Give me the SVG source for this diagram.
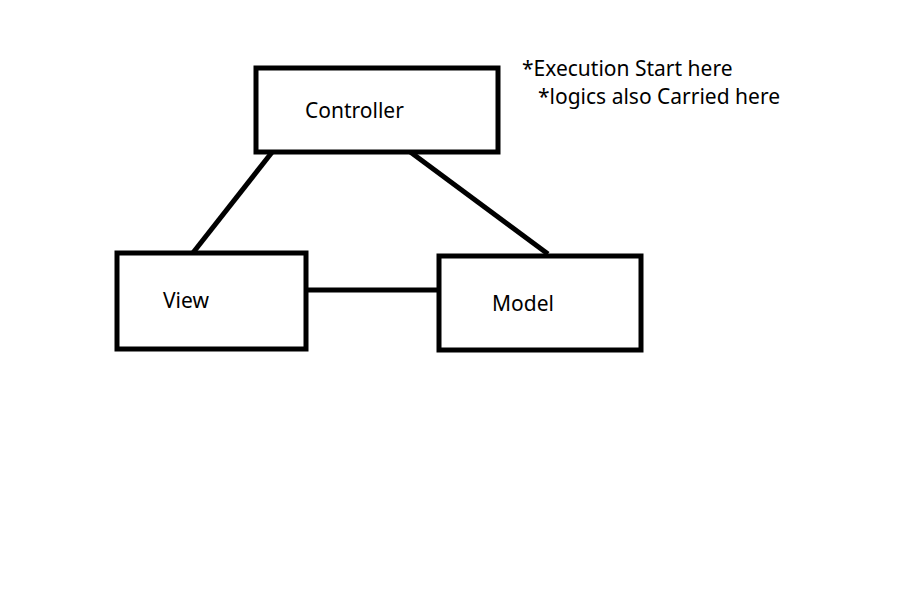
<svg xmlns="http://www.w3.org/2000/svg" width="916" height="602" viewBox="0 0 916 602">
<style>
.box{fill:#fff;stroke:#000;stroke-width:5}
.conn{stroke:#000;stroke-width:5;fill:none}
text{font-family:"Noto Sans","Open Sans",sans-serif;font-size:21px;fill:#000}
</style>
<rect width="916" height="602" fill="#fff"/>
<g id="connectors">
<line class="conn" x1="273" y1="151" x2="192" y2="254"/>
<line class="conn" x1="409" y1="151" x2="548" y2="254"/>
<line class="conn" x1="307" y1="290" x2="441" y2="290"/>
</g>
<g id="controller">
<rect class="box" x="256" y="68" width="242" height="84"/>
<text x="305" y="118">Controller</text>
</g>
<g id="view">
<rect class="box" x="117" y="253" width="189" height="96"/>
<text x="163" y="308">View</text>
</g>
<g id="model">
<rect class="box" x="439" y="256" width="202" height="94"/>
<text x="492" y="311">Model</text>
</g>
<g id="note">
<text x="522" y="76">*Execution Start here</text>
<text x="538" y="104">*logics also Carried here</text>
</g>
</svg>
